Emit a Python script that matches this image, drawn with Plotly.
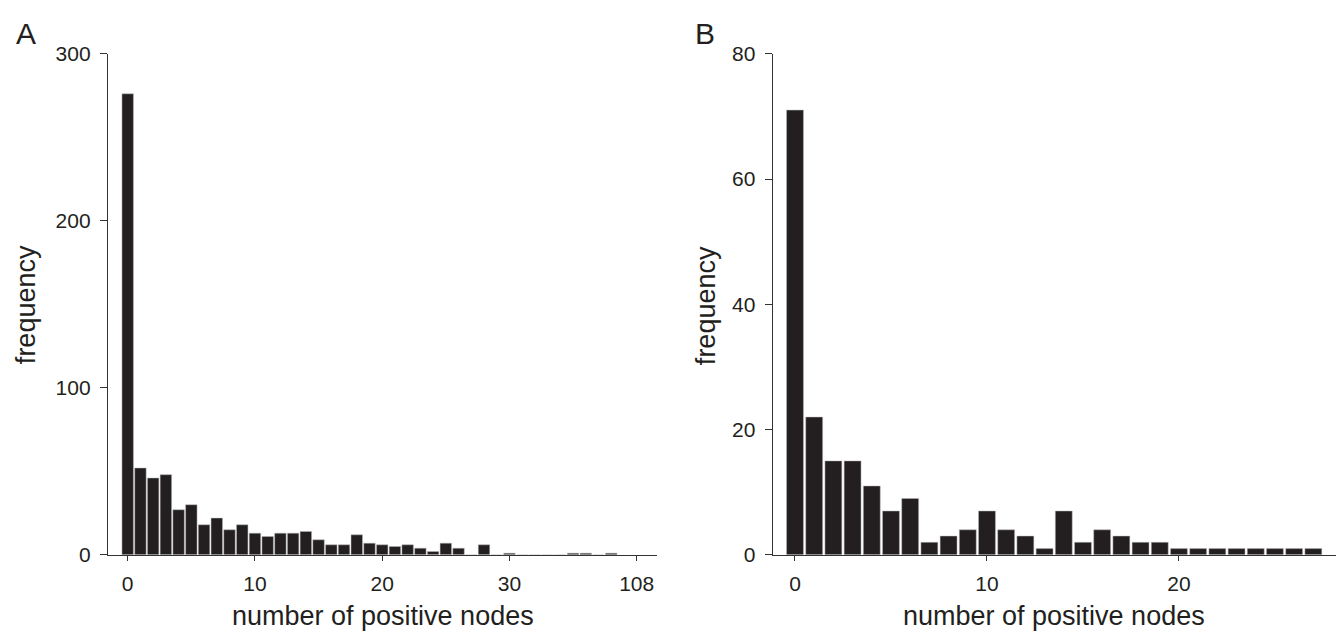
import plotly.graph_objects as go

# Panel A data
a_pos = list(range(0, 39))
a_freq = [276, 52, 46, 48, 27, 30, 18, 22, 15, 18,
          13, 11, 13, 13, 14, 9, 6, 6, 12, 7,
          6, 5, 6, 4, 2, 7, 4, 0, 6, 0,
          1, 0, 0, 0, 0, 1, 1, 0, 1]
a_tickvals = [0, 10, 20, 30, 40]
a_ticktext = ["0", "10", "20", "30", "108"]

# Panel B data
b_pos = list(range(0, 28))
b_freq = [71, 22, 15, 15, 11, 7, 9, 2, 3, 4,
          7, 4, 3, 1, 7, 2, 4, 3, 2, 2,
          1, 1, 1, 1, 1, 1, 1, 1]
b_tickvals = [0, 10, 20]
b_ticktext = ["0", "10", "20"]

W, H = 1339, 643
FONT = "Liberation Sans, Arial, Helvetica, sans-serif"
TXT = "#231f20"
BAR = "#231f20"

ydom = [(H - 563) / H, (H - 43.3) / H]

fig = go.Figure()
fig.add_trace(go.Bar(x=a_pos, y=a_freq, width=0.9, xaxis="x", yaxis="y",
                     marker=dict(color=BAR, line=dict(color="#b8b8b8", width=0.5)),
                     showlegend=False))
fig.add_trace(go.Bar(x=b_pos, y=b_freq, width=0.88, xaxis="x2", yaxis="y2",
                     marker=dict(color=BAR, line=dict(color="#b8b8b8", width=0.5)),
                     showlegend=False))

axis_common = dict(showgrid=False, zeroline=False, showline=True,
                   linecolor="#333333", linewidth=1.3, ticks="outside",
                   tickcolor="#333333", tickwidth=1.2,
                   tickfont=dict(family=FONT, size=21, color=TXT))

fig.update_layout(
    width=W, height=H,
    margin=dict(l=0, r=0, t=0, b=0),
    paper_bgcolor="white", plot_bgcolor="white",
    xaxis=dict(domain=[108 / W, 657 / W], range=[-1.548, 41.595],
               tickvals=a_tickvals, ticktext=a_ticktext, ticklen=5,
               anchor="y", ticklabelstandoff=5, **axis_common),
    yaxis=dict(domain=ydom, range=[0, 300], tickvals=[0, 100, 200, 300],
               ticklen=7, anchor="x", ticklabelstandoff=5, **axis_common),
    xaxis2=dict(domain=[772.7 / W, 1336 / W], range=[-1.161, 28.18],
                tickvals=b_tickvals, ticktext=b_ticktext, ticklen=5,
                anchor="y2", ticklabelstandoff=5, **axis_common),
    yaxis2=dict(domain=ydom, range=[0, 80], tickvals=[0, 20, 40, 60, 80],
                ticklen=7, anchor="x2", ticklabelstandoff=5, **axis_common),
)

ann = []
# x titles
for cx in [(108 + 657) / 2, (772.7 + 1336) / 2]:
    ann.append(dict(text="number of positive nodes", x=cx / W, y=(H - 626) / H,
                    xref="paper", yref="paper", xanchor="center", yanchor="middle",
                    showarrow=False, font=dict(family=FONT, size=27, color=TXT)))
# y titles
for cx in [26, 706]:
    ann.append(dict(text="frequency", x=cx / W, y=(H - 304) / H, textangle=-90,
                    xref="paper", yref="paper", xanchor="center", yanchor="middle",
                    showarrow=False, font=dict(family=FONT, size=27, color=TXT)))
# panel letters
for lab, cx in [("A", 26), ("B", 705)]:
    ann.append(dict(text=lab, x=cx / W, y=(H - 22) / H,
                    xref="paper", yref="paper", xanchor="center", yanchor="middle",
                    showarrow=False, font=dict(family=FONT, size=30, color=TXT)))
fig.update_layout(annotations=ann)

fig.write_html("out.html")
